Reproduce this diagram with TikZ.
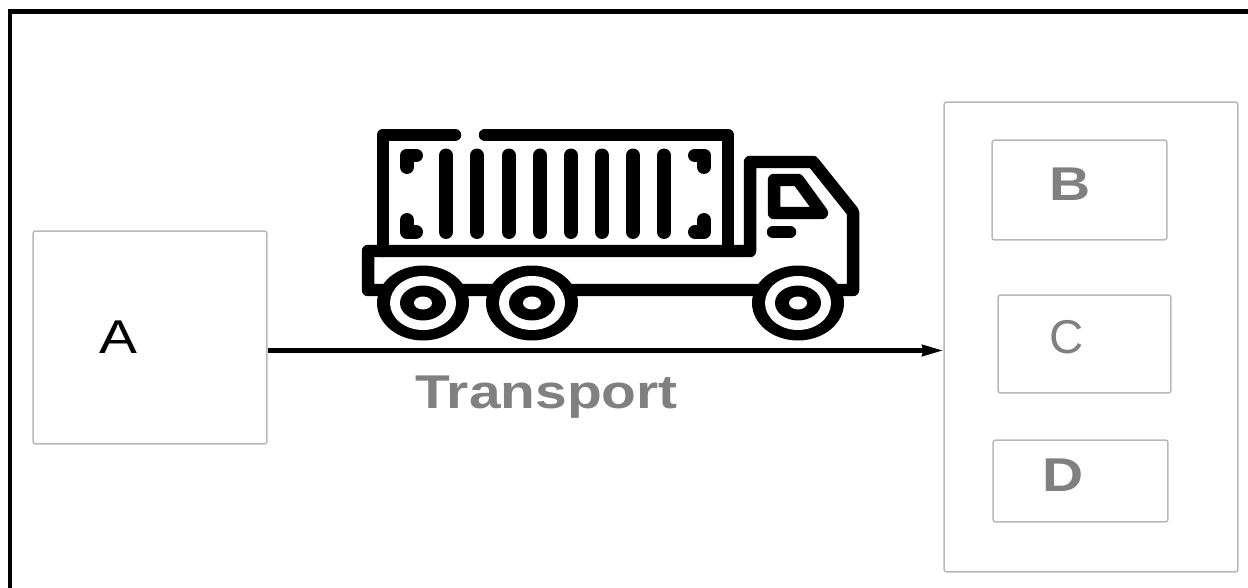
\documentclass[tikz,border=0pt]{standalone}
\usepackage{fontspec}
\usepackage{xcolor}
\usetikzlibrary{arrows.meta}
\newfontfamily\widefont[FakeStretch=1.2]{Liberation Sans}
\newfontfamily\plainfont{Liberation Sans}
\definecolor{boxcolor}{RGB}{184, 184, 184}
\definecolor{labelcolor}{RGB}{128, 128, 128}
\tikzset{
  boxstyle/.style={draw=boxcolor,line width=0.85pt,rounded corners=1.5pt,inner sep=0},
  labelstyle/.style={anchor=base,inner sep=0,text=labelcolor,font=\widefont\fontsize{27}{31}\selectfont},
  boldlabel/.style={labelstyle,font=\widefont\bfseries\fontsize{27}{31}\selectfont},
  truckline/.style={line width=0.25cm,line cap=round,line join=round},
  barline/.style={truckline,line width=0.28cm}
}

\begin{document}
\begin{tikzpicture}[x=0.02cm,y=-0.02cm]
        \useasboundingbox (0,0) rectangle (1248,588);
        % Outer frame, open on the right and at the bottom
        \draw[line width=2.3pt] (10,588) -- (10,11.5) -- (1248,11.5);
        % Boxes
        \node[boxstyle,minimum width=4.68cm,minimum height=4.26cm] (boxA) at (150,337.5) {};
        \node[boxstyle,minimum width=5.88cm,minimum height=9.40cm] (dest) at (1091,337) {};
        \node[boxstyle,minimum width=3.50cm,minimum height=2.00cm] (boxB) at (1079.5,190) {};
        \node[boxstyle,minimum width=3.46cm,minimum height=1.96cm] (boxC) at (1084.5,344) {};
        \node[boxstyle,minimum width=3.50cm,minimum height=1.64cm] (boxD) at (1080.5,481) {};
        % Labels
        \node[labelstyle,text=black] (labelA) at (118.5,353) {A};
        \node[boldlabel] (labelB) at (1070,200) {B};
        \node[labelstyle,font=\plainfont\fontsize{27}{31}\selectfont] (labelC) at (1066.5,353.5) {C};
        \node[boldlabel] (labelD) at (1063.5,491) {D};
        \node[boldlabel] (transport) at (546.5,408) {Transport};
        % Arrow
        \coordinate (arrowlevel) at (600,350.5);
        \draw[line width=2.5pt,-{Stealth[length=0.42cm,width=0.22cm,inset=0.02cm]}] (boxA.east |- arrowlevel) -- (dest.west |- arrowlevel);
        % Container
        \draw[truckline] (455,135) -- (383,135) -- (383,251);
        \draw[truckline] (485,135) -- (728,135) -- (728,251);
        \foreach \x in {446,477,509,540,571,602,633,664}
            \draw[barline] (\x,155.5) -- (\x,232);
        % Corner marks of the container
        \foreach \x/\e in {407/416,704/695}{
            \draw[barline] (\x,167) -- (\x,155.5) -- (\e,155.5);
            \draw[barline] (\x,220) -- (\x,232) -- (\e,232);
        }
        % Chassis and cab
        \draw[truckline] (368,251) -- (368,290) -- (853,290) -- (853,212) -- (813,162) -- (750,162) -- (750,251) -- cycle;
        \draw[truckline] (774,180) -- (798,180) -- (822,213) -- (774,213) -- cycle;
        \draw[truckline] (773,232) -- (790,232);
        % Wheels
        \foreach \x in {423,532,798}{
            \fill[black] (\x,303) ellipse [x radius=0.92cm,y radius=0.75cm];
            \fill[white] (\x,303) ellipse [x radius=0.66cm,y radius=0.54cm];
            \fill[black] (\x,303) ellipse [x radius=0.46cm,y radius=0.35cm];
            \fill[white] (\x,303) ellipse [x radius=0.18cm,y radius=0.13cm];
        }
    \end{tikzpicture}
\end{document}
